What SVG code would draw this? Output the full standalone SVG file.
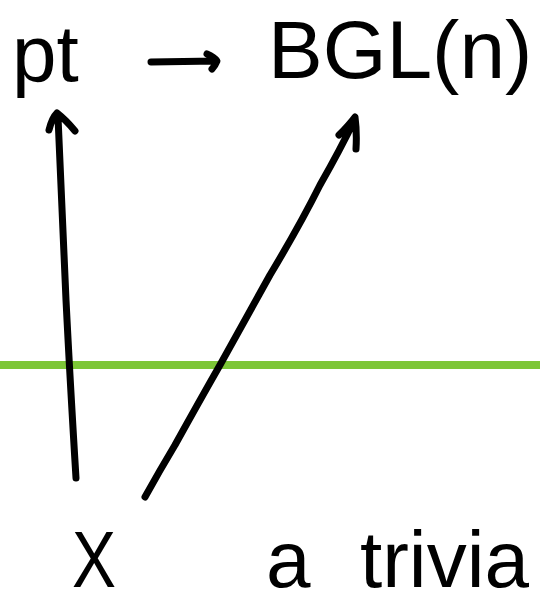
<svg xmlns="http://www.w3.org/2000/svg" width="540" height="605" viewBox="0 0 540 605">
<style>
.t{font-family:"Liberation Sans","DejaVu Sans",sans-serif;fill:#000;}
.c{fill:none;stroke:#000;stroke-width:7;stroke-linecap:round;stroke-linejoin:round;}
</style>
<rect width="540" height="605" fill="#fff"/>
<line x1="0" y1="365" x2="540" y2="365" stroke="#7dc637" stroke-width="8"/>
<g id="node-pt"><text class="t" x="12" y="81" font-size="80">pt</text></g>
<g id="node-bgl"><text class="t" x="268" y="78" font-size="82">BGL(n)</text></g>
<g id="node-x"><text class="t" x="72" y="587" font-size="80" textLength="44" lengthAdjust="spacingAndGlyphs">X</text></g>
<g id="node-trivial"><text class="t" y="587" font-size="80"><tspan x="266">a</tspan><tspan x="360">trivia</tspan></text></g>
<g id="connectors">
<path class="c" d="M151 62 L216 61 M207 54 Q214 57 217 61 Q215 66 212 69"/>
<path class="c" d="M76 478 Q70 380 66 300 Q62 200 58 117 M49 130 Q52 118 57 113 Q66 120 75 131"/>
<path class="c" d="M145 497 Q160 470 175 445 Q200 400 220 365 Q245 320 270 275 Q300 225 320 185 Q340 150 355 119 M339 135 Q349 125 355 117 Q357 132 356 149"/>
</g>
</svg>
